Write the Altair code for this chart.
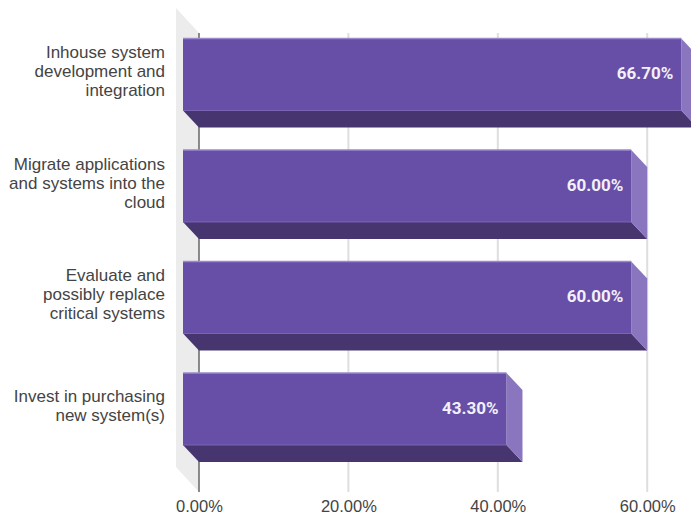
import altair as alt
import pandas as pd

# ---- data ----
categories = [
    "Inhouse system\ndevelopment and\nintegration",
    "Migrate applications\nand systems into the\ncloud",
    "Evaluate and\npossibly replace\ncritical systems",
    "Invest in purchasing\nnew system(s)",
]
values = [66.7, 60.0, 60.0, 43.3]
value_labels = ["66.70%", "60.00%", "60.00%", "43.30%"]
tick_values = [0, 20, 40, 60]

# ---- style constants (3-D look) ----
SLOT_PX = 111.5       # pixels per category slot
FRONT_H = 0.6457      # front face height, in category slots
DEPTH_X = 2.14        # depth offset along x, in percent units
DEPTH_Y = 0.1525      # depth offset along y, in slots
LINE_H = 19           # label line height, px
X_DOMAIN = [-4.15, 65.86]
Y_DOMAIN = [-0.2735, 4.0673]
WALL_X = -3.08
WALL_TOP_FRONT, WALL_TOP_BACK = -0.2735, -0.0493
WALL_BOT_FRONT, WALL_BOT_BACK = 3.843, 4.0673

FRONT_C = "#674ea7"
BOTTOM_C = "#46356f"
SIDE_C = "#8a76bf"
EDGE_C = "#9a8acb"

front_rows, bottom_rows, side_rows = [], [], []
for i, (cat, v, lab) in enumerate(zip(categories, values, value_labels)):
    top = i
    bot = i + FRONT_H
    n_lines = cat.count("\n") + 1
    yc = (top + bot) / 2
    ty = yc - ((n_lines - 1) / 2 * LINE_H + 2) / SLOT_PX
    front_rows.append(dict(cat=cat, v=v, lab=lab, x0=-DEPTH_X, x1=v - DEPTH_X,
                           y0=top, y1=bot, yc=yc, ty=ty))
    # bottom face (vertical area, x independent)
    for xx, ya, yb in [(-DEPTH_X, bot, bot), (0, bot, bot + DEPTH_Y),
                       (v - DEPTH_X, bot, bot + DEPTH_Y), (v, bot + DEPTH_Y, bot + DEPTH_Y)]:
        bottom_rows.append(dict(bar=i, x=xx, ya=ya, yb=yb))
    # side face (horizontal area, y independent)
    for yy, xa, xb in [(top, v - DEPTH_X, v - DEPTH_X), (top + DEPTH_Y, v - DEPTH_X, v),
                       (bot, v - DEPTH_X, v), (bot + DEPTH_Y, v, v)]:
        side_rows.append(dict(bar=i, y=yy, xa=xa, xb=xb))

front = pd.DataFrame(front_rows)
bottom = pd.DataFrame(bottom_rows)
side = pd.DataFrame(side_rows)
wall = pd.DataFrame({"x": [WALL_X, 0], "ya": [WALL_TOP_FRONT, WALL_TOP_BACK],
                     "yb": [WALL_BOT_FRONT, WALL_BOT_BACK]})
grid = pd.DataFrame({"t": tick_values, "y0": WALL_TOP_BACK, "y1": WALL_BOT_BACK,
                     "zero": [t == 0 for t in tick_values]})

xs = alt.Scale(domain=X_DOMAIN, nice=False, zero=False)
ys = alt.Scale(domain=Y_DOMAIN, nice=False, zero=False, reverse=True)

wall_layer = alt.Chart(wall).mark_area(color="#ececec", orient="vertical").encode(
    x=alt.X("x:Q", scale=xs, axis=alt.Axis(values=tick_values, title=None, domain=False, ticks=False,
                                            grid=False, labelExpr="format(datum.value, '.2f') + '%'",
                                            labelFont="Liberation Sans", labelFontSize=16.5,
                                            labelColor="#444444", labelPadding=6)),
    y=alt.Y("ya:Q", scale=ys, axis=None, stack=None),
    y2="yb:Q",
)

grid_layer = alt.Chart(grid).mark_rule().encode(
    x="t:Q", y="y0:Q", y2="y1:Q",
    color=alt.condition("datum.zero", alt.value("#666666"), alt.value("#dedede")),
    strokeWidth=alt.condition("datum.zero", alt.value(1.5), alt.value(2)),
)

bottom_layer = alt.Chart(bottom).mark_area(color=BOTTOM_C, orient="vertical", clip=True).encode(
    x="x:Q", y=alt.Y("ya:Q", stack=None), y2="yb:Q", detail="bar:N")

side_layer = alt.Chart(side).mark_area(color=SIDE_C, orient="horizontal", clip=True).encode(
    y="y:Q", x=alt.X("xa:Q", stack=None), x2="xb:Q", detail="bar:N")

front_layer = alt.Chart(front).mark_rect(color=FRONT_C, clip=True).encode(
    x="x0:Q", x2="x1:Q", y="y0:Q", y2="y1:Q")

edge_top = alt.Chart(front).mark_rule(color=EDGE_C, strokeWidth=1.5).encode(
    x="x0:Q", x2="x1:Q", y="y0:Q")
edge_bot = alt.Chart(front).mark_rule(color="#7a66b4", strokeWidth=1).encode(
    x="x0:Q", x2="x1:Q", y="y1:Q")

value_text = alt.Chart(front).mark_text(
    align="right", baseline="middle", dx=-8, font="Roboto", fontSize=17,
    fontWeight="bold", color="#f2f0f8").encode(x="x1:Q", y="yc:Q", text="lab:N")

cat_text = alt.Chart(front).mark_text(
    align="right", baseline="middle", lineBreak="\n", lineHeight=LINE_H,
    font="Liberation Sans", fontSize=17, color="#444444").encode(
    x=alt.value(-3), y="ty:Q", text="cat:N")

chart = alt.layer(
    wall_layer, grid_layer, bottom_layer, side_layer, front_layer,
    edge_top, edge_bot, value_text, cat_text,
).properties(
    width=523, height=484,
    autosize=alt.AutoSizeParams(type="none"),
    padding={"left": 160, "top": 0, "right": 0, "bottom": 21},
).configure_view(stroke=None)

chart.save("out.html", embed_options={"renderer": "svg", "actions": False})
